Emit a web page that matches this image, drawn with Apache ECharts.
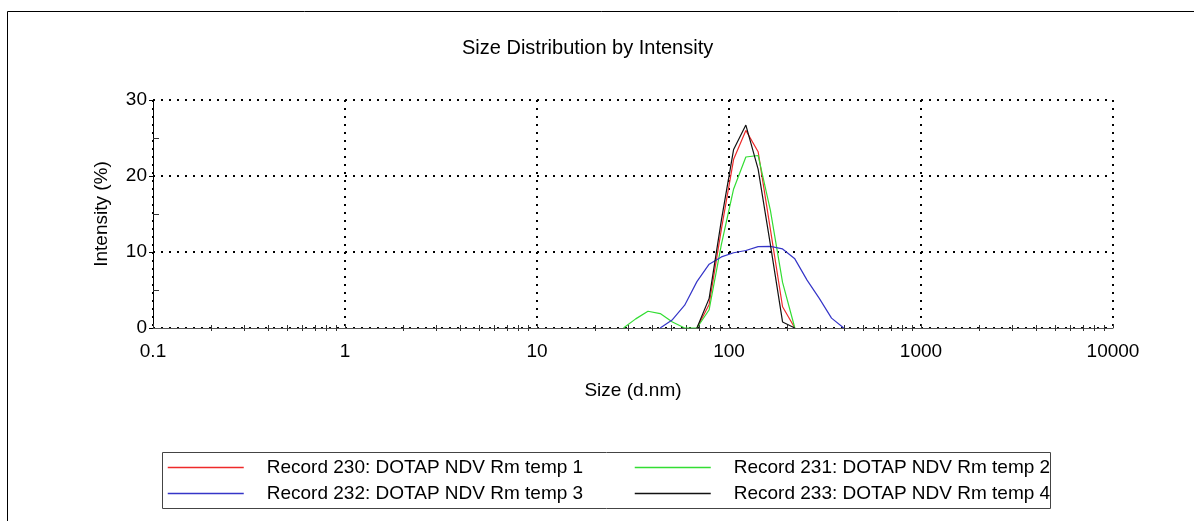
<!DOCTYPE html>
<html>
<head>
<meta charset="utf-8">
<script src="https://cdn.jsdelivr.net/npm/echarts@6/dist/echarts.min.js"></script>
<style>
    html, body { margin: 0; padding: 0; background: #fff; }
    #chart { width: 1194px; height: 521px; }
</style>
</head>
<body>
<div id="chart"></div>
<script>
    // size bins (d.nm) and intensity (%) per record
    const sizes = [28.21, 32.67, 37.84, 43.82, 50.75, 58.77, 68.06, 78.82, 91.28, 105.7, 122.4, 141.8, 164.2, 190.1, 220.2, 255.0, 295.3, 342.0, 396.1];
    const rec230 = [null, null, null, null, null, null, 0, 3.1, 13.0, 22.2, 26.0, 23.2, 13.0, 2.8, 0, null, null, null, null];
    const rec231 = [0, 1.2, 2.2, 1.9, 0.8, 0, 0, 2.4, 11.0, 18.3, 22.5, 22.7, 15.5, 6.0, 0, null, null, null, null];
    const rec232 = [null, null, null, 0, 1.1, 3.0, 6.1, 8.4, 9.35, 9.9, 10.2, 10.7, 10.75, 10.4, 9.1, 6.3, 3.9, 1.3, 0];
    const rec233 = [null, null, null, null, null, null, 0, 3.9, 14.2, 23.5, 26.7, 20.9, 11.0, 0.8, 0, null, null, null, null];

    const names = ['Record 230: DOTAP NDV Rm temp 1', 'Record 231: DOTAP NDV Rm temp 2',
                   'Record 232: DOTAP NDV Rm temp 3', 'Record 233: DOTAP NDV Rm temp 4'];
    const colors = ['#ee2a2a', '#33dd33', '#3535c8', '#111111'];

    const xMinorTicks = [0.2, 0.3, 0.4, 0.5, 0.6, 0.7, 0.8, 0.9,
                         2, 3, 4, 5, 6, 7, 8, 9,
                         20, 30, 40, 50, 60, 70, 80, 90,
                         200, 300, 400, 500, 600, 700, 800, 900,
                         2000, 3000, 4000, 5000, 6000, 7000, 8000, 9000];
    const yMinorTicks = [5, 15, 25];

    function pairs(vals) {
        let out = [];
        for (let i = 0; i < sizes.length; i++) {
            if (vals[i] !== null) out.push([sizes[i], vals[i]]);
        }
        return out;
    }

    const font = 'Liberation Sans, Arial, sans-serif';
    let chart = echarts.init(document.getElementById('chart'));

    const minorX = function (inside) {
        return {
            type: 'log', logBase: 10, min: 0.1, max: 10000, position: 'bottom',
            axisLine: { show: false },
            axisLabel: { show: false },
            splitLine: { show: false },
            axisTick: { show: true, inside: inside, length: 3, customValues: xMinorTicks,
                        lineStyle: { color: '#333', width: 1 } }
        };
    };

    const legendBase = {
        orient: 'vertical', top: 453, itemWidth: 76, itemHeight: 14, itemGap: 7,
        itemStyle: { opacity: 0 },
        lineStyle: { width: 1.5 },
        textStyle: { fontFamily: font, fontSize: 19, color: '#000', padding: [0, 0, 0, 18] }
    };

    const option = {
        animation: false,
        title: {
            text: 'Size Distribution by Intensity',
            left: 457, top: 33,
            textStyle: { fontFamily: font, fontSize: 20, fontWeight: 'normal', color: '#000' }
        },
        grid: { left: 153, right: 81, top: 100, bottom: 193 },
        xAxis: [
            {
                type: 'log', logBase: 10, min: 0.1, max: 10000,
                name: 'Size (d.nm)', nameLocation: 'middle', nameGap: 53,
                nameTextStyle: { fontFamily: font, fontSize: 19, color: '#000' },
                axisLine: { lineStyle: { color: '#555', width: 1 } },
                axisTick: { inside: true, length: 4, lineStyle: { color: '#333' } },
                axisLabel: { fontFamily: font, fontSize: 19, color: '#000', margin: 14,
                             formatter: function (v) { return String(v); } },
                splitLine: { show: true, lineStyle: { color: '#000', width: 2, type: [2, 6] } }
            },
            minorX(true),
            minorX(false)
        ],
        yAxis: [
            {
                type: 'value', min: 0, max: 30, interval: 10,
                name: 'Intensity (%)', nameLocation: 'middle', nameGap: 42,
                nameTextStyle: { fontFamily: font, fontSize: 19, color: '#000' },
                axisLine: { show: true, lineStyle: { color: '#000', width: 1 } },
                axisTick: { show: true, length: 4, lineStyle: { color: '#000' } },
                axisLabel: { fontFamily: font, fontSize: 19, color: '#000', margin: 6 },
                splitLine: { show: true, lineStyle: { color: '#000', width: 2, type: [2, 6] } }
            },
            {
                type: 'value', min: 0, max: 30, position: 'left',
                axisLine: { show: false },
                axisLabel: { show: false },
                splitLine: { show: false },
                axisTick: { show: true, inside: true, length: 6, customValues: yMinorTicks,
                            lineStyle: { color: '#333' } }
            }
        ],
        legend: [
            Object.assign({}, legendBase, { data: [names[0], names[2]], left: 162 }),
            Object.assign({}, legendBase, { data: [names[1], names[3]], left: 629 })
        ],
        graphic: [
            { type: 'rect', shape: { x: 7.5, y: 11.5, width: 1200, height: 530 },
              style: { fill: 'none', stroke: '#000', lineWidth: 1 }, silent: true },
            { type: 'rect', shape: { x: 162.5, y: 452.5, width: 888, height: 56 },
              style: { fill: 'none', stroke: '#444', lineWidth: 1 }, silent: true }
        ],
        series: [rec230, rec231, rec232, rec233].map(function (vals, i) {
            return {
                name: names[i], type: 'line', data: pairs(vals),
                symbol: 'none', color: colors[i],
                lineStyle: { width: 1.2, color: colors[i] }
            };
        })
    };
    chart.setOption(option);
</script>
</body>
</html>
